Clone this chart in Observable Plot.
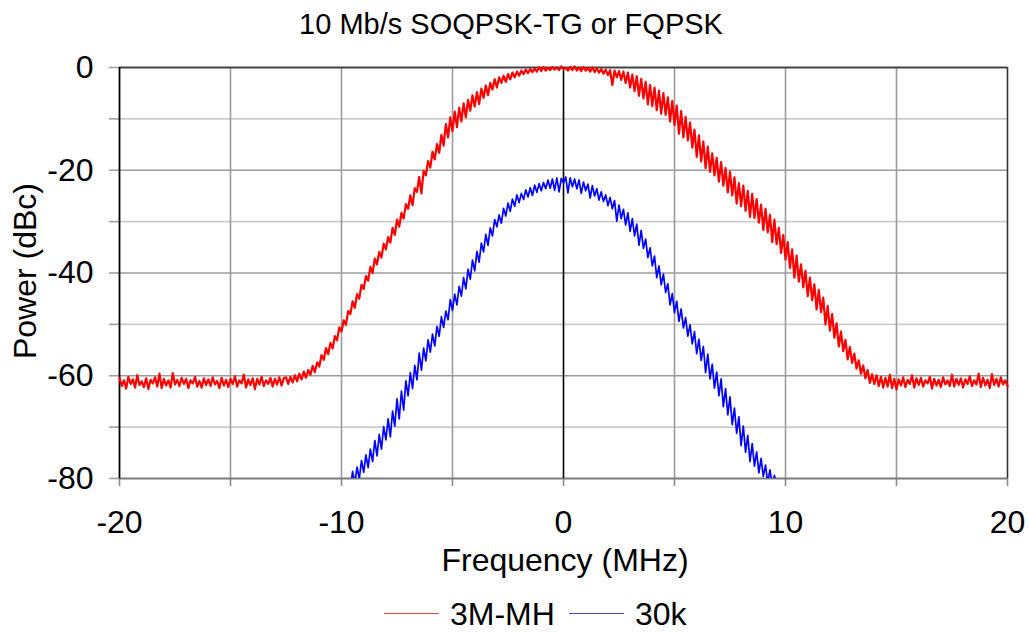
<!DOCTYPE html>
<html>
<head>
<meta charset="utf-8">
<script src="https://cdn.jsdelivr.net/npm/d3@7"></script>
<script src="https://cdn.jsdelivr.net/npm/@observablehq/plot@0.6"></script>
<style>
html, body { margin: 0; padding: 0; background: #fff; }
#wrap { position: relative; width: 1029px; height: 632px; font-family: "Liberation Sans", Arial, sans-serif; color: #000; overflow: hidden; }
#chart { position: absolute; left: 0; top: 0; }
.lbl { position: absolute; line-height: 1; white-space: nowrap; }
.swatch { position: absolute; height: 1px; }
</style>
</head>
<body>
<div id="wrap">
  <div id="chart"></div>
  <div class="lbl" style="font-size:29px; left:511px; top:10px; transform:translateX(-50%);">10 Mb/s SOQPSK-TG or FQPSK</div>
  <div class="lbl" style="font-size:32px; left:565px; top:544px; transform:translateX(-50%);">Frequency (MHz)</div>
  <div class="lbl" style="font-size:32px; left:25px; top:271px; transform:translate(-50%,-50%) rotate(-90deg);">Power (dBc)</div>
  <div class="swatch" style="left:384px; top:613px; width:55px; background:#e64646;"></div>
  <div class="lbl" style="font-size:32px; left:450px; top:598px;">3M-MH</div>
  <div class="swatch" style="left:569px; top:613px; width:55px; background:#4646e0;"></div>
  <div class="lbl" style="font-size:32px; left:635px; top:598px;">30k</div>
</div>
<script>
// ---- data ----
const seriesNames = ["3M-MH", "30k"];
const seriesColors = ["#ff0000", "#0000ff"];

const xDomain = [-20, 20];
const yDomain = [-80, 0];
const xTicksAll = [-20, -15, -10, -5, 0, 5, 10, 15, 20];
const xTickLabels = [-20, -10, 0, 10, 20];
const xGrid = [-15, -10, -5, 5, 10, 15];
const yTicksAll = [0, -10, -20, -30, -40, -50, -60, -70, -80];
const yTickLabels = [0, -20, -40, -60, -80];
const yGridLight = [-10, -30, -50, -70];
const yGridDark = [-20, -40, -60];

// 3M-MH trace: sampled every 0.1 MHz from -20 MHz
const redStart = -20, redStep = 0.1;
const redPower = [
  -60.4,-62.0,-60.9,-62.5,-60.2,-61.6,-60.7,-62.3,-59.9,-61.8,
  -61.1,-62.2,-60.5,-62.6,-60.8,-61.5,-60.3,-62.1,-59.6,-62.4,
  -60.6,-61.9,-60.9,-62.3,-59.5,-61.7,-60.8,-62.0,-60.4,-61.6,
  -60.6,-62.4,-60.9,-61.5,-60.2,-62.1,-61.0,-62.3,-60.5,-61.8,
  -60.7,-62.0,-60.3,-61.7,-61.0,-62.4,-60.4,-61.9,-60.8,-62.2,
  -60.6,-61.6,-60.1,-62.1,-60.9,-61.5,-59.8,-62.3,-60.7,-61.8,
  -60.5,-62.6,-60.6,-61.7,-60.2,-62.0,-60.9,-61.6,-60.4,-62.1,
  -60.6,-61.7,-60.3,-61.9,-60.5,-60.3,-61.6,-60.2,-61.3,-59.9,
  -61.1,-59.6,-60.7,-59.2,-60.4,-58.9,-59.8,-58.1,-59.3,-57.4,
  -58.2,-56.0,-56.9,-54.6,-55.8,-53.6,-54.7,-52.3,-53.1,-50.6,
  -51.4,-49.2,-50.1,-47.4,-48.0,-45.5,-46.8,-44.1,-45.0,-42.3,
  -43.1,-40.6,-41.5,-38.8,-40.0,-37.2,-38.3,-35.9,-37.0,-34.3,
  -35.4,-33.0,-34.1,-31.2,-32.6,-29.6,-31.0,-28.3,-29.4,-26.6,
  -27.5,-24.9,-26.8,-23.5,-24.2,-21.3,-24.5,-20.1,-21.0,-18.2,
  -19.5,-16.4,-17.9,-14.9,-16.6,-13.1,-15.2,-11.0,-13.6,-9.7,
  -12.4,-8.6,-11.6,-7.8,-10.5,-7.0,-9.7,-6.3,-8.4,-5.4,
  -7.6,-4.8,-7.1,-4.1,-5.9,-3.5,-5.4,-3.0,-4.3,-2.3,
  -3.9,-1.9,-3.0,-1.6,-2.8,-1.3,-2.3,-1.0,-1.9,-0.8,
  -1.6,-0.6,-1.3,-0.4,-1.1,-0.3,-0.9,-0.2,-0.8,0.0,
  -0.7,0.1,-0.6,-0.1,-0.5,0.1,-0.4,0.0,-0.5,0.2,
  -0.3,-0.1,-0.6,0.1,-0.5,0.2,-0.6,0.0,-0.7,0.1,
  -0.6,-0.1,-0.8,0.0,-0.9,-0.2,-1.0,-0.3,-1.2,-0.4,
  -1.5,-0.5,-3.4,-0.6,-1.9,-0.7,-2.4,-0.8,-3.0,-1.0,
  -3.9,-1.4,-4.6,-1.7,-5.5,-2.2,-6.0,-2.8,-7.2,-3.4,
  -7.5,-3.9,-8.3,-4.5,-9.0,-5.0,-9.2,-5.8,-10.5,-6.5,
  -11.2,-7.4,-12.9,-8.5,-13.6,-9.6,-14.2,-10.7,-15.6,-12.1,
  -17.4,-13.2,-18.3,-14.4,-19.6,-15.4,-20.3,-16.7,-21.0,-17.6,
  -22.2,-18.4,-23.0,-19.6,-24.3,-20.3,-24.9,-21.4,-26.5,-22.5,
  -27.0,-23.0,-27.9,-24.0,-29.1,-24.6,-29.3,-25.6,-30.2,-26.7,
  -31.6,-27.5,-32.1,-28.7,-34.0,-29.6,-34.4,-31.2,-36.1,-32.6,
  -37.4,-34.0,-39.0,-35.4,-40.9,-36.6,-41.7,-38.3,-42.8,-39.6,
  -44.5,-40.9,-45.3,-42.2,-47.1,-43.3,-47.6,-44.8,-50.0,-46.4,
  -51.2,-48.0,-52.6,-49.8,-54.3,-51.4,-55.2,-53.0,-56.8,-54.4,
  -57.5,-55.7,-58.6,-57.0,-59.6,-58.0,-60.5,-58.9,-61.4,-59.7,
  -61.6,-59.9,-62.0,-60.2,-62.3,-60.4,-62.1,-59.8,-62.4,-60.6,
  -62.7,-60.7,-61.9,-60.3,-62.2,-60.8,-61.6,-59.9,-62.3,-60.5,
  -61.8,-60.4,-62.1,-60.9,-61.5,-60.2,-62.5,-60.6,-61.9,-60.8,
  -62.2,-60.3,-61.7,-60.9,-62.0,-59.8,-62.1,-60.6,-61.8,-60.5,
  -62.3,-60.7,-61.6,-60.1,-62.0,-60.9,-61.7,-59.6,-62.2,-60.4,
  -61.9,-60.8,-62.4,-59.7,-61.8,-60.6,-62.1,-60.3,-61.7,-60.9,
  -62.0
];

// 30k trace: sampled every 0.1 MHz from -9.7 MHz
const blueStart = -9.7, blueStep = 0.1;
const bluePower = [
  -80.5,-82.0,-78.6,-80.9,-77.8,-80.1,-76.5,-78.8,-75.4,-77.9,
  -74.3,-76.7,-72.6,-75.6,-71.4,-74.3,-69.9,-72.5,-68.4,-71.9,
  -66.9,-69.8,-64.5,-68.4,-63.0,-66.7,-61.0,-63.9,-59.4,-62.5,
  -58.0,-60.8,-55.6,-58.9,-54.6,-57.1,-53.0,-55.4,-51.9,-54.2,
  -50.4,-52.3,-48.5,-50.6,-47.4,-49.1,-45.2,-47.3,-44.1,-46.2,
  -42.6,-44.5,-40.9,-43.1,-39.3,-41.2,-37.5,-39.6,-35.8,-37.9,
  -34.2,-35.9,-32.5,-34.6,-31.2,-32.8,-29.6,-31.0,-28.7,-30.3,
  -27.4,-28.9,-26.4,-28.0,-25.6,-27.0,-24.8,-26.3,-24.5,-25.7,
  -23.8,-25.2,-23.4,-24.9,-22.9,-24.3,-22.6,-24.0,-22.4,-23.6,
  -21.9,-23.5,-21.7,-23.9,-21.5,-24.2,-21.6,-22.5,-21.3,-24.4,
  -21.5,-23.2,-21.7,-23.6,-21.9,-24.5,-22.3,-24.0,-22.7,-25.4,
  -23.0,-25.0,-23.6,-25.8,-24.2,-26.1,-24.8,-26.9,-25.3,-27.5,
  -25.9,-29.9,-26.8,-29.4,-27.6,-30.7,-28.3,-31.9,-29.4,-32.8,
  -30.5,-34.6,-31.7,-35.2,-33.4,-37.0,-35.1,-38.6,-36.7,-40.9,
  -38.6,-42.3,-40.2,-43.8,-42.1,-46.2,-44.0,-47.7,-45.5,-49.4,
  -47.0,-50.7,-48.7,-52.3,-50.1,-53.8,-51.4,-55.7,-52.9,-57.0,
  -54.3,-59.4,-55.8,-60.6,-57.8,-62.4,-59.3,-63.9,-60.6,-66.0,
  -62.5,-67.6,-64.1,-69.5,-66.3,-71.2,-68.0,-73.6,-69.8,-74.9,
  -71.6,-76.7,-73.2,-77.6,-74.8,-78.9,-76.1,-79.6,-77.4,-80.8,
  -78.3,-81.2,-79.4,-81.5
];

const redData = redPower.map((p, i) => ({f: +(redStart + i * redStep).toFixed(2), p, s: seriesNames[0]}));
const blueData = bluePower.map((p, i) => ({f: +(blueStart + i * blueStep).toFixed(2), p, s: seriesNames[1]}));
const fmt = d => String(d);

const chart = Plot.plot({
  width: 1029,
  height: 632,
  marginLeft: 119,
  marginRight: 22,
  marginTop: 67,
  marginBottom: 154,
  style: {fontFamily: "'Liberation Sans', Arial, sans-serif", background: "transparent", overflow: "visible", color: "#000"},
  x: {domain: xDomain, label: null},
  y: {domain: yDomain, label: null},
  marks: [
    Plot.ruleY(yGridLight, {stroke: "#cbcbcb", strokeWidth: 1.6}),
    Plot.ruleY(yGridDark, {stroke: "#9c9c9c", strokeWidth: 1.6}),
    Plot.ruleX(xGrid, {stroke: "#9c9c9c", strokeWidth: 1.6}),
    Plot.axisY({ticks: yTicksAll, tickSize: 10, tickFormat: () => "", stroke: "#a0a0a0", strokeWidth: 1.6, strokeOpacity: 1}),
    Plot.axisY({ticks: yTickLabels, tickSize: 0, tickPadding: 26, fontSize: 32, tickFormat: fmt, fill: "#000"}),
    Plot.axisX({ticks: xTicksAll, tickSize: 8, tickFormat: () => "", stroke: "#8a8a8a", strokeWidth: 1.6, strokeOpacity: 1}),
    Plot.axisX({ticks: xTickLabels, tickSize: 0, tickPadding: 32, fontSize: 32, tickFormat: fmt, fill: "#000"}),
    Plot.ruleY([yDomain[0]], {stroke: "#7a7a7a", strokeWidth: 1.8}),
    Plot.ruleY([yDomain[1]], {stroke: "#444", strokeWidth: 1.8}),
    Plot.ruleX([xDomain[1]], {stroke: "#333", strokeWidth: 1.6}),
    Plot.ruleX([xDomain[0]], {stroke: "#000", strokeWidth: 1.8}),
    Plot.ruleX([0], {stroke: "#000", strokeWidth: 1.6}),
    Plot.line(redData, {x: "f", y: "p", stroke: seriesColors[0], strokeWidth: 2.2}),
    Plot.line(blueData, {x: "f", y: "p", stroke: seriesColors[1], strokeWidth: 1.7, clip: true})
  ]
});
document.getElementById("chart").appendChild(chart);
</script>
</body>
</html>
